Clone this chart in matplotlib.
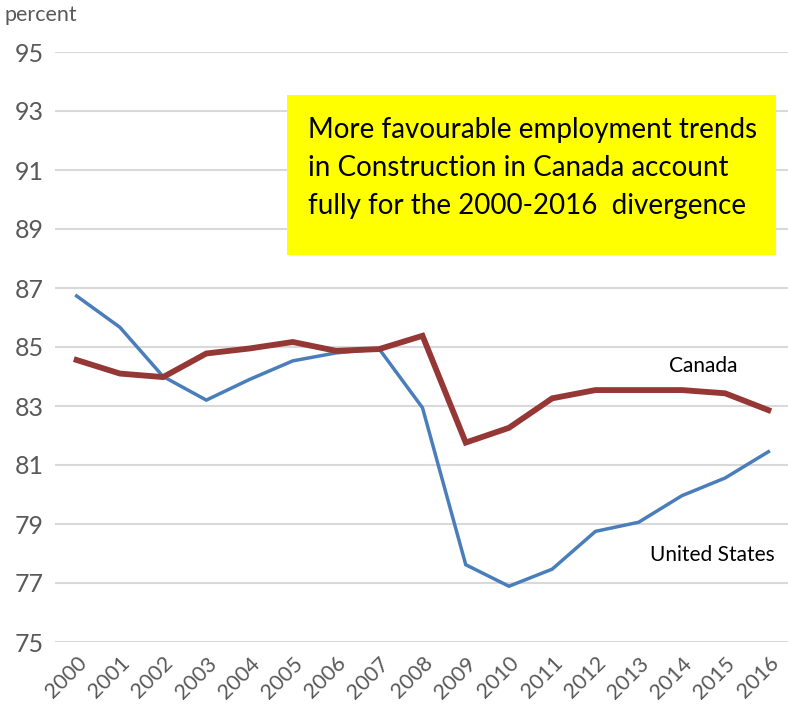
import matplotlib.pyplot as plt
from matplotlib.patches import Rectangle
import numpy as np

years = [str(y) for y in range(2000, 2017)]
canada = [84.56, 84.10, 83.98, 84.78, 84.95, 85.17, 84.87, 84.93, 85.38,
          81.76, 82.26, 83.26, 83.54, 83.54, 83.54, 83.43, 82.86]
united_states = [86.73, 85.67, 84.00, 83.20, 83.90, 84.53, 84.80, 84.93, 82.94,
                 77.62, 76.89, 77.47, 78.75, 79.06, 79.96, 80.56, 81.45]
yticks = list(range(75, 96, 2))
note = ("More favourable employment trends\n"
        "in Construction in Canada account\n"
        "fully for the 2000-2016  divergence")

plt.rcParams['font.family'] = ['Lato', 'DejaVu Sans']

W, H = 788, 723
fig = plt.figure(figsize=(W / 100, H / 100), dpi=100)
ax = fig.add_axes([55 / W, 81 / H, 735 / W, 590 / H])

x = np.arange(len(years))
ax.plot(x, united_states, color='#4a7ebb', linewidth=2.5, solid_joinstyle='miter', zorder=3)
ax.plot(x, canada, color='#953735', linewidth=4.2, solid_joinstyle='miter', zorder=4)

ax.set_xlim(-0.5, len(years) - 0.5)
ax.set_ylim(75, 95)
ax.set_yticks(yticks)
ax.set_yticklabels([str(v) for v in yticks], fontsize=18, color='#595959')
ax.set_xticks(x)
ax.set_xticklabels(years, rotation=45, ha='right', rotation_mode='anchor',
                   fontsize=15.5, color='#595959')
ax.tick_params(axis='y', length=0, pad=8)
ax.tick_params(axis='x', length=0, pad=8)
ax.grid(axis='y', color='#d9d9d9', linewidth=1.5)
ax.set_axisbelow(True)
for s in ax.spines.values():
    s.set_visible(False)

fig.text(5 / W, 1 - 15 / H, 'percent', fontsize=15.5, color='#595959', va='center', ha='left')

# yellow call-out box with the note
fig.patches.append(Rectangle((287 / W, 1 - 255 / H), (776 - 287) / W, 160 / H,
                             transform=fig.transFigure, facecolor='#ffff00',
                             edgecolor='none', zorder=5))
fig.text(308 / W, 1 - 168 / H, note, fontsize=20, color='black', va='center',
         ha='left', linespacing=1.55, zorder=6)

ax.text(14.5, 84.35, 'Canada', fontsize=15, ha='center', va='center', color='black')
ax.text(14.7, 77.95, 'United States', fontsize=15, ha='center', va='center', color='black')

fig.savefig('out.png', dpi=100)
